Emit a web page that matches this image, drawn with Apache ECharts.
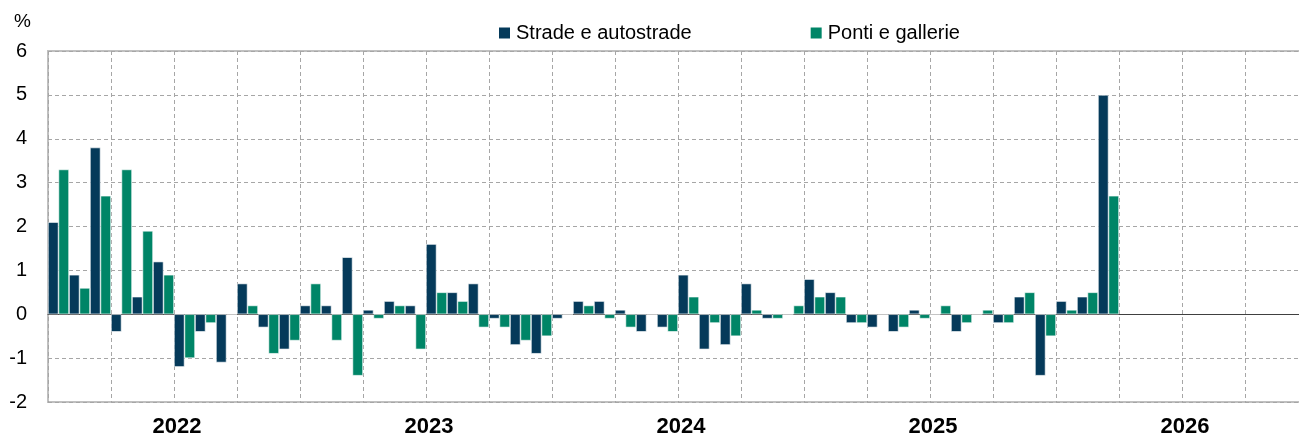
<!DOCTYPE html>
<html>
<head>
<meta charset="utf-8">
<script src="https://cdn.jsdelivr.net/npm/echarts@6/dist/echarts.min.js"></script>
<style>
  html, body { margin: 0; padding: 0; background: #fff; }
  #chart { width: 1299px; height: 438px; }
</style>
</head>
<body>
<div id="chart"></div>
<script>
// monthly categories, Jan 2022 .. Dec 2026
var months = [
    '2022-01','2022-02','2022-03','2022-04','2022-05','2022-06','2022-07','2022-08','2022-09','2022-10','2022-11','2022-12',
    '2023-01','2023-02','2023-03','2023-04','2023-05','2023-06','2023-07','2023-08','2023-09','2023-10','2023-11','2023-12',
    '2024-01','2024-02','2024-03','2024-04','2024-05','2024-06','2024-07','2024-08','2024-09','2024-10','2024-11','2024-12',
    '2025-01','2025-02','2025-03','2025-04','2025-05','2025-06','2025-07','2025-08','2025-09','2025-10','2025-11','2025-12',
    '2026-01','2026-02','2026-03','2026-04','2026-05','2026-06','2026-07','2026-08','2026-09','2026-10','2026-11','2026-12'
];
var years = ['2022', '2023', '2024', '2025', '2026'];

var strade = [
    2.1, 0.9, 3.8, -0.4, 0.4, 1.2, -1.2, -0.4, -1.1, 0.7, -0.3, -0.8,
    0.2, 0.2, 1.3, 0.1, 0.3, 0.2, 1.6, 0.5, 0.7, -0.1, -0.7, -0.9,
    -0.1, 0.3, 0.3, 0.1, -0.4, -0.3, 0.9, -0.8, -0.7, 0.7, -0.1, 0,
    0.8, 0.5, -0.2, -0.3, -0.4, 0.1, 0, -0.4, 0, -0.2, 0.4, -1.4,
    0.3, 0.4, 5.0
];
var ponti = [
    3.3, 0.6, 2.7, 3.3, 1.9, 0.9, -1.0, -0.2, 0, 0.2, -0.9, -0.6,
    0.7, -0.6, -1.4, -0.1, 0.2, -0.8, 0.5, 0.3, -0.3, -0.3, -0.6, -0.5,
    0, 0.2, -0.1, -0.3, 0, -0.4, 0.4, -0.2, -0.5, 0.1, -0.1, 0.2,
    0.4, 0.4, -0.2, 0, -0.3, -0.1, 0.2, -0.2, 0.1, -0.2, 0.5, -0.5,
    0.1, 0.5, 2.7
];

var FONT = '"Liberation Sans", Arial, sans-serif';

var myChart = echarts.init(document.getElementById('chart'));

var option = {
    animation: false,
    title: {
        text: '%',
        left: 9,
        top: 7,
        textStyle: { fontFamily: FONT, fontSize: 19, fontWeight: 'normal', color: '#000' }
    },
    legend: {
        left: 492,
        top: 18,
        itemWidth: 13,
        itemHeight: 13,
        itemGap: 117,
        icon: 'rect',
        textStyle: { fontFamily: FONT, fontSize: 20, color: '#000' },
        data: ['Strade e autostrade', 'Ponti e gallerie']
    },
    grid: {
        left: 48,
        top: 51,
        width: 1260,
        height: 351,
        outerBoundsMode: 'none',
        show: true,
        borderColor: '#c0c0c0',
        borderWidth: 2,
        backgroundColor: 'transparent'
    },
    xAxis: [{
        type: 'category',
        data: months,
        boundaryGap: true,
        axisLine: { onZero: true, lineStyle: { color: '#404040', width: 1 } },
        axisTick: { show: false },
        axisLabel: { show: false },
        splitLine: {
            show: true,
            interval: 2,
            lineStyle: { color: '#a6a6a6', type: [4, 3], width: 1 }
        }
    }, {
        type: 'category',
        data: years,
        position: 'bottom',
        boundaryGap: true,
        axisLine: { show: false },
        axisTick: { show: false },
        splitLine: { show: false },
        axisLabel: {
            margin: 14,
            padding: [0, 0, 0, 6],
            fontFamily: FONT,
            fontSize: 22,
            fontWeight: 'bold',
            color: '#000'
        }
    }],
    yAxis: {
        type: 'value',
        min: -2,
        max: 6,
        interval: 1,
        axisLine: { show: false },
        axisTick: { show: false },
        axisLabel: { margin: 21, fontFamily: FONT, fontSize: 20, color: '#000' },
        splitLine: { lineStyle: { color: '#a6a6a6', type: [4, 3], width: 1 } }
    },
    series: [{
        name: 'Strade e autostrade',
        type: 'bar',
        xAxisIndex: 0,
        data: strade,
        barWidth: 10.5,
        barGap: '0%',
        itemStyle: { color: '#053a5a', borderColor: '#ffffff', borderWidth: 0.6 }
    }, {
        name: 'Ponti e gallerie',
        type: 'bar',
        xAxisIndex: 0,
        data: ponti,
        barWidth: 10.5,
        barGap: '0%',
        itemStyle: { color: '#008567', borderColor: '#ffffff', borderWidth: 0.6 }
    }]
};

// 绘制图表
myChart.setOption(option);
</script>
</body>
</html>
